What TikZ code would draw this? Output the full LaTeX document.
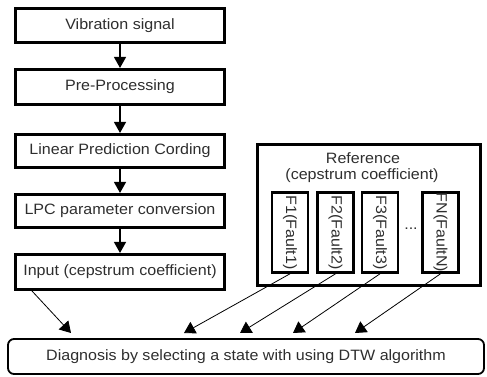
\documentclass[tikz,border=0pt]{standalone}
\usepackage{fontspec}
\setmainfont[FakeStretch=1.07]{Liberation Sans}
\usetikzlibrary{arrows.meta}
\definecolor{txt}{HTML}{2E2E2E}
\tikzset{
  lbl/.style={text=txt, font=\fontsize{15}{17}\selectfont},
  stepbox/.style={draw, line width=2.6pt, minimum width=209pt, inner sep=0pt, lbl},
  refbox/.style={draw, line width=2.6pt, inner sep=0pt},
  faultbox/.style={draw, line width=2.6pt, minimum width=36pt, minimum height=80pt, inner sep=0pt},
  vtext/.style={rotate=-90, inner sep=0pt, lbl},
  diagbox/.style={draw, line width=1.8pt, rounded corners=6pt, minimum width=476pt, minimum height=35pt, inner sep=0pt, lbl},
  flow/.style={line width=1.3pt, -{Triangle[width=12pt,length=11pt]}},
  link/.style={line width=0.8pt, -{Triangle[width=13pt,length=11pt]}}
}
\begin{document}
\begin{tikzpicture}[x=1pt,y=-1pt]
\useasboundingbox (0,0) rectangle (487,377);
\node[stepbox, minimum height=34.5pt] (b1) at (120,25.5) {Vibration signal};
\node[stepbox, minimum height=35.5pt] (b2) at (120,87) {Pre-Processing};
\node[stepbox, minimum height=33.5pt] (b3) at (120,151) {Linear Prediction Cording};
\node[stepbox, minimum height=33.5pt] (b4) at (120,211) {LPC parameter conversion};
\node[stepbox, minimum height=35.5pt] (b5) at (120,272) {Input (cepstrum coefficient)};
\draw[flow] (b1) -- (b2);
\draw[flow] (b2) -- (b3);
\draw[flow] (b3) -- (b4);
\draw[flow] (b4) -- (b5);

\node[refbox, minimum width=223pt, minimum height=141pt] (ref) at (369,215) {};
\node[lbl, inner sep=0pt] (reft) at (363,158) {Reference};
\node[lbl, inner sep=0pt] (refc) at (362,176) {(cepstrum coefficient)};
\node[faultbox] (f1) at (290,232.5) {};
\node[faultbox] (f2) at (335.5,232.5) {};
\node[faultbox] (f3) at (380,232.5) {};
\node[faultbox] (fn) at (440.5,232.5) {};
\node[vtext] (f1t) at (f1) {F1(Fault1)};
\node[vtext] (f2t) at (f2) {F2(Fault2)};
\node[vtext] (f3t) at (f3) {F3(Fault3)};
\node[vtext] (fnt) at (fn) {FN(FaultN)};
\node[lbl] (dots) at (411,229) {...};

\node[diagbox] (diag) at (246,356.5) {Diagnosis by selecting a state with using DTW algorithm};

\coordinate (s0) at (32,291);
\coordinate (t0) at (71,333);
\coordinate (t1) at (184,333);
\coordinate (t2) at (240,333);
\coordinate (t3) at (293,333);
\coordinate (t4) at (355,333);
\draw[link] (s0) -- (t0);
\draw[link] (f1.south) -- (t1);
\draw[link] (f2.south) -- (t2);
\draw[link] (f3.south) -- (t3);
\draw[link] (fn.south) -- (t4);
\end{tikzpicture}
\end{document}
